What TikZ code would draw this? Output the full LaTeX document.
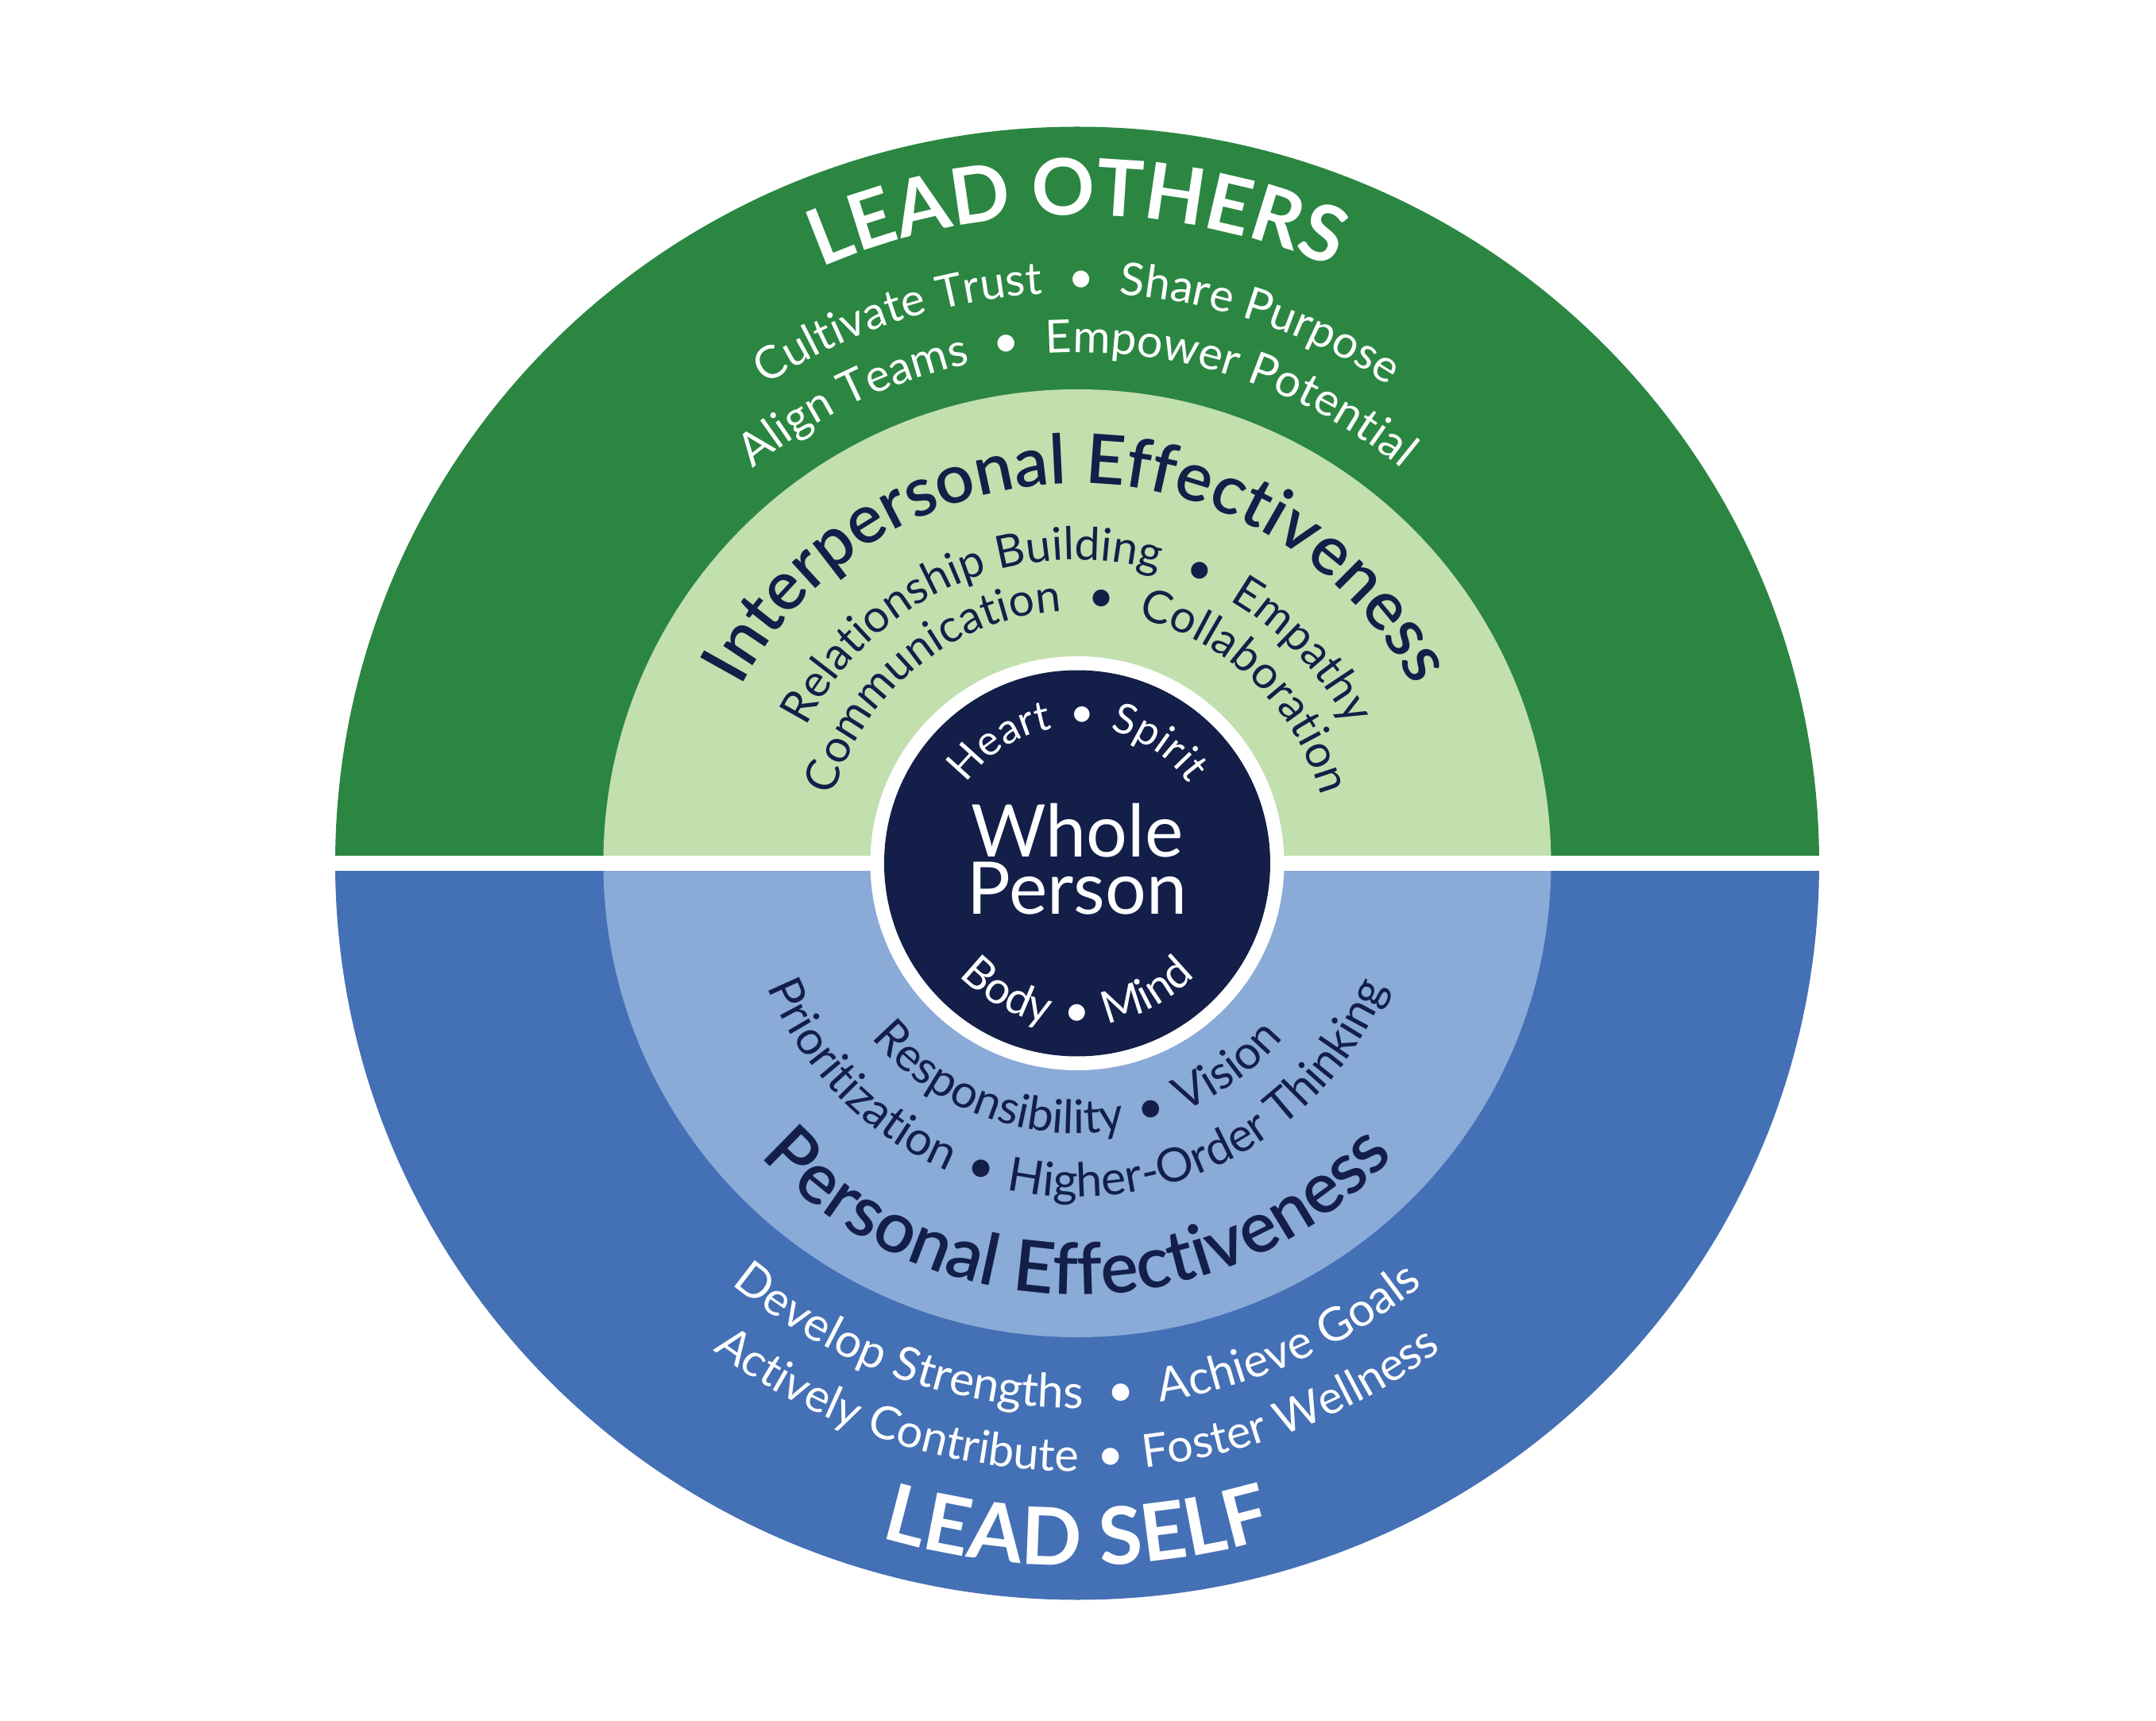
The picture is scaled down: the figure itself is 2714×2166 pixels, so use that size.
\documentclass[tikz,border=0pt]{standalone}
\usepackage{fontspec}
\setmainfont{Lato}
\usetikzlibrary{decorations.text}
\definecolor{dgreen}{RGB}{43,134,66}
\definecolor{lgreen}{RGB}{194,223,174}
\definecolor{dblue}{RGB}{68,112,181}
\definecolor{lblue}{RGB}{138,170,216}
\definecolor{navy}{RGB}{19,31,73}
\IfFontExistsTF{Lato Semibold}{\newfontfamily\semib{Lato Semibold}}{\newcommand\semib{\bfseries}}
\newcommand\TopArcText[3]{%
  \path[decorate,decoration={text along path,text align=center,text={|#2|#3}}]
    (190:#1) arc[start angle=190,end angle=-10,radius=#1];}
\newcommand\BotArcText[3]{%
  \path[decorate,decoration={text along path,text align=center,text={|#2|#3}}]
    (170:#1) arc[start angle=170,end angle=370,radius=#1];}
\begin{document}
\begin{tikzpicture}[x=0.01cm,y=0.01cm,
  wp/.style={text=white,font=\fontsize{26}{30}\selectfont,anchor=base,inner sep=0pt}]
\useasboundingbox (-1356,-1079.5) rectangle (1358,1086.5);
\fill[white] (-1356,-1079.5) rectangle (1358,1086.5);
% rings
\fill[dgreen] (-934,0) arc[start angle=180,end angle=0,x radius=934,y radius=927] -- cycle;
\fill[dblue] (-934,0) arc[start angle=180,end angle=360,x radius=934,y radius=927] -- cycle;
\fill[lgreen] (-596.5,0) arc[start angle=180,end angle=0,radius=596.5] -- cycle;
\fill[lblue] (-596.5,0) arc[start angle=180,end angle=360,radius=596.5] -- cycle;
\fill[white] (-945,-9.5) rectangle (945,9.5);
\fill[white] (0,0) circle[radius=260.5];
\fill[navy] (0,0) circle[radius=243];
% top texts
\TopArcText{816}{\bfseries\fontsize{28}{34}\selectfont\color{white}}{LEAD OTHERS}
\TopArcText{718}{\fontsize{16.2}{20}\selectfont\color{white}}{Cultivate Trust{\hspace*{9pt}}•{\hspace*{9pt}}Share Purpose}
\TopArcText{643}{\fontsize{16.3}{20}\selectfont\color{white}}{Align Teams{\hspace*{9pt}}•{\hspace*{9pt}}Empower Potential}
\TopArcText{478}{\semib\fontsize{24.5}{30}\selectfont\color{navy}}{Interpersonal Effectiveness}
\TopArcText{382}{\fontsize{16.2}{20}\selectfont\color{navy}}{Relationship Building{\hspace*{9pt}}•{\hspace*{9pt}}Empathy}
\TopArcText{318}{\fontsize{16.2}{20}\selectfont\color{navy}}{Communication{\hspace*{9pt}}•{\hspace*{9pt}}Collaboration}
\TopArcText{172}{\fontsize{15}{18}\selectfont\color{white}}{Heart{\hspace*{6pt}}•{\hspace*{6pt}}Spirit}
% bottom texts
\BotArcText{205}{\fontsize{16}{18}\selectfont\color{white}}{Body{\hspace*{6pt}}•{\hspace*{6pt}}Mind}
\BotArcText{340}{\fontsize{16.6}{20}\selectfont\color{navy}}{Responsibility{\hspace*{6pt}}•{\hspace*{6pt}}Vision}
\BotArcText{420}{\fontsize{16.8}{20}\selectfont\color{navy}}{Prioritization{\hspace*{6pt}}•{\hspace*{6pt}}Higher-Order Thinking}
\BotArcText{543}{\semib\fontsize{25.5}{30}\selectfont\color{navy}}{Personal Effectiveness}
\BotArcText{686}{\fontsize{16.7}{20}\selectfont\color{white}}{Develop Strengths{\hspace*{9pt}}•{\hspace*{9pt}}Achieve Goals}
\BotArcText{765}{\fontsize{16.4}{20}\selectfont\color{white}}{Actively Contribute{\hspace*{7pt}}•{\hspace*{7pt}}Foster Wellness}
\BotArcText{884}{\bfseries\fontsize{28.5}{34}\selectfont\color{white}}{LEAD SELF}
% centre
\node[wp] (whole) at (0,8.5) {Whole};
\node[wp] (person) at (0,-63.5) {Person};
\end{tikzpicture}
\end{document}
